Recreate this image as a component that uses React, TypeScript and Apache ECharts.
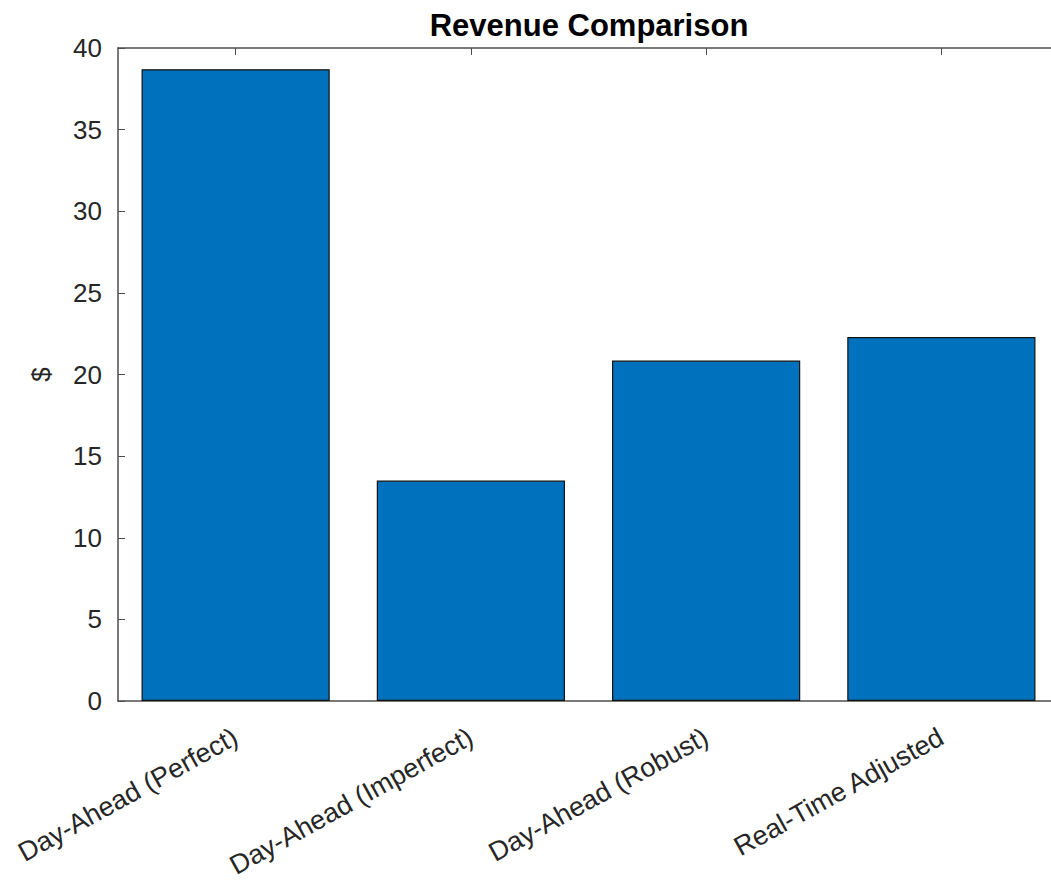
import React, { useEffect, useRef } from "react";
import * as echarts from "echarts";

const categories = [
  "Day-Ahead (Perfect)",
  "Day-Ahead (Imperfect)",
  "Day-Ahead (Robust)",
  "Real-Time Adjusted",
];
const revenue = [38.7, 13.5, 20.85, 22.3];
const yMin = 0;
const yMax = 40;
const yStep = 5;
const titleText = "Revenue Comparison";
const yName = "$";

const FONT = "'Liberation Sans', Arial, Helvetica, sans-serif";
const AXIS_COLOR = "#4d4d4d";
const TEXT_COLOR = "#262626";

export default function App() {
  const ref = useRef<HTMLDivElement>(null);
  useEffect(() => {
    if (!ref.current) return;
    const chart = echarts.init(ref.current, undefined, { renderer: "svg" });
    const axisLine = { show: true, onZero: false, lineStyle: { color: AXIS_COLOR, width: 1.5 } };
    const tickIn = { show: true, inside: true, length: 7, lineStyle: { color: AXIS_COLOR, width: 1 } };
    chart.setOption({
      animation: false,
      backgroundColor: "#ffffff",
      title: {
        text: titleText,
        left: 584,
        top: 5,
        textAlign: "center",
        textStyle: { fontFamily: FONT, fontWeight: "bold", fontSize: 31, color: "#000000" },
      },
      grid: {
        left: 118,
        top: 48,
        width: 941,
        height: 653,
        containLabel: false,
        outerBoundsMode: "none",
      },
      xAxis: [
        {
          type: "category",
          data: categories,
          position: "bottom",
          axisLine,
          axisTick: { ...tickIn, alignWithLabel: true },
          axisLabel: {
            rotate: 29,
            margin: 34,
            fontFamily: FONT,
            fontSize: 27,
            color: TEXT_COLOR,
            interval: 0,
          },
          splitLine: { show: false },
        },
        {
          type: "category",
          data: categories,
          position: "top",
          axisLine,
          axisTick: { ...tickIn, alignWithLabel: true },
          axisLabel: { show: false },
          splitLine: { show: false },
        },
      ],
      yAxis: [
        {
          type: "value",
          min: yMin,
          max: yMax,
          interval: yStep,
          position: "left",
          name: yName,
          nameLocation: "middle",
          nameGap: 64,
          nameRotate: 90,
          nameTextStyle: { fontFamily: FONT, fontSize: 26, color: TEXT_COLOR },
          axisLine,
          axisTick: tickIn,
          axisLabel: { margin: 16, fontFamily: FONT, fontSize: 26, color: TEXT_COLOR },
          splitLine: { show: false },
        },
        {
          type: "value",
          min: yMin,
          max: yMax,
          interval: yStep,
          position: "right",
          axisLine: { show: false },
          axisTick: { show: true, inside: true, length: 4, lineStyle: { color: "#808080", width: 1 } },
          axisLabel: { show: false },
          splitLine: { show: false },
        },
      ],
      series: [
        {
          type: "bar",
          data: revenue,
          xAxisIndex: 0,
          yAxisIndex: 0,
          barWidth: "80%",
          itemStyle: { color: "#0072BD", borderColor: "#111111", borderWidth: 1.2 },
        },
      ],
    });
    return () => chart.dispose();
  }, []);
  return (
    <div
      ref={ref}
      style={{
        position: "fixed",
        left: 0,
        top: 0,
        width: 1051,
        height: 886,
        overflow: "hidden",
        background: "#fff",
      }}
    />
  );
}
